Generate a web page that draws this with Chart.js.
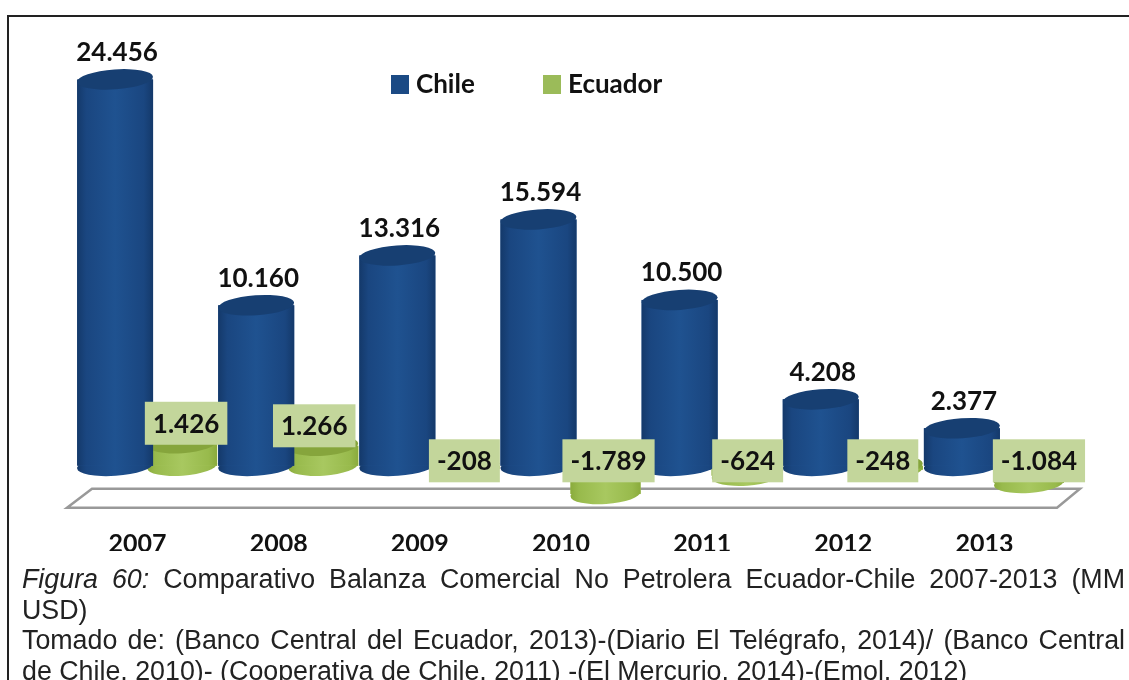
<!DOCTYPE html>
<html>
<head>
<meta charset="utf-8">
<script src="https://cdn.jsdelivr.net/npm/chart.js@4"></script>
<style>
  html, body { margin: 0; padding: 0; background: #fff; overflow: hidden; }
  #wrap { position: relative; width: 1129px; height: 680px; overflow: hidden; }
  #frame { position: absolute; left: 7px; top: 15px; right: 0; bottom: 0; border-left: 2px solid #222; border-top: 2px solid #222; }
  #balanza { position: absolute; left: 0; top: 0; }
  #caption { position: absolute; left: 22px; top: 564px; width: 1103px; font: 26.8px/30.5px "Liberation Sans", Arial, sans-serif; color: #222; text-align: justify; }
</style>
</head>
<body>
<div id="wrap">
  <div id="frame"></div>
  <canvas id="balanza" width="1129" height="680"></canvas>
  <div id="caption">
    <div><i>Figura 60:</i> Comparativo Balanza Comercial No Petrolera Ecuador-Chile 2007-2013 (MM USD)</div>
    <div>Tomado de: (Banco Central del Ecuador, 2013)-(Diario El Telégrafo, 2014)/ (Banco Central de Chile, 2010)- (Cooperativa de Chile, 2011) -(El Mercurio, 2014)-(Emol, 2012)</div>
  </div>
</div>
<script>
const years = ['2007', '2008', '2009', '2010', '2011', '2012', '2013'];
const chile = [24456, 10160, 13316, 15594, 10500, 4208, 2377];
const ecuador = [1426, 1266, -208, -1789, -624, -248, -1084];

// hand placed labels in the original, so nudge them a bit sideways
const ecuadorLabelNudge = [4, -9, 0, 3, 1, -5, 10];

const labelFont = 'bold 26px Lato, sans-serif';
const ink = '#111';

function fmt(v) {
  // dot as thousands separator
  return String(v).replace(/\B(?=(\d{3})+$)/g, '.');
}

function sideGradient(c, el, colors) {
  const g = c.createLinearGradient(el.x - el.width / 2, 0, el.x + el.width / 2, 0);
  g.addColorStop(0, colors[0]);
  g.addColorStop(0.12, colors[1]);
  g.addColorStop(0.5, colors[2]);
  g.addColorStop(0.88, colors[1]);
  g.addColorStop(1, colors[0]);
  return g;
}

const blueSide = ['#14396a', '#1a4680', '#1f5290'];
const greenSide = ['#8aab3c', '#98ba4c', '#a8c860'];
const capColor = ['#173f72', '#86a53c'];
const capTilt = -0.07;
const capHeight = 10;

function cap(c, el, y, fill) {
  c.beginPath();
  c.ellipse(el.x, y, el.width / 2, capHeight, capTilt, 0, Math.PI * 2);
  c.fillStyle = fill;
  c.fill();
}

// turns the flat bars into cylinders, using the bar elements Chart.js laid out
const cylinders = {
  id: 'cylinders',
  beforeDatasetDraw(chart, args) {
    const c = chart.ctx;
    const side = args.index === 0 ? blueSide : greenSide;
    args.meta.data.forEach(el => {
      cap(c, el, Math.max(el.y, el.base), sideGradient(c, el, side));
    });
  },
  afterDatasetDraw(chart, args) {
    const c = chart.ctx;
    const side = args.index === 0 ? blueSide : greenSide;
    args.meta.data.forEach(el => {
      const top = Math.min(el.y, el.base);
      c.fillStyle = sideGradient(c, el, side);
      c.fillRect(el.x - el.width / 2, top, el.width, Math.abs(el.y - el.base));
      cap(c, el, top, capColor[args.index]);
    });
  }
};

// the white slab under the bars, hung from the zero line
const platform = {
  id: 'platform',
  beforeDatasetsDraw(chart) {
    const c = chart.ctx;
    const zero = chart.scales.y.getPixelForValue(0);
    c.save();
    c.beginPath();
    c.moveTo(67, zero + 42);
    c.lineTo(92, zero + 23);
    c.lineTo(1080, zero + 23);
    c.lineTo(1057, zero + 42);
    c.closePath();
    c.strokeStyle = '#999';
    c.lineWidth = 2.5;
    c.stroke();
    c.restore();
  }
};

const valueLabels = {
  id: 'valueLabels',
  afterDatasetsDraw(chart) {
    const c = chart.ctx;
    const zero = chart.scales.y.getPixelForValue(0);
    c.save();
    c.font = labelFont;
    c.textAlign = 'center';
    c.textBaseline = 'middle';

    chart.getDatasetMeta(0).data.forEach((el, i) => {
      c.fillStyle = ink;
      c.fillText(fmt(chile[i]), el.x + 2, el.y - 27);
    });

    chart.getDatasetMeta(1).data.forEach((el, i) => {
      const text = fmt(ecuador[i]);
      const x = el.x + ecuadorLabelNudge[i];
      const y = ecuador[i] > 0 ? el.y - 20 : zero - 5;
      const w = c.measureText(text).width + 16;
      c.fillStyle = '#c3d69b';
      c.fillRect(x - w / 2, y - 21.5, w, 43);
      c.fillStyle = ink;
      c.fillText(text, x, y + 1);
    });
    c.restore();
  }
};

// legend sits inside the plot, off centre, so it is drawn here
const topLegend = {
  id: 'topLegend',
  afterDraw(chart) {
    const c = chart.ctx;
    const spots = [391, 543];
    const colors = ['#1b4a84', '#9bbb59'];
    c.save();
    c.font = labelFont;
    c.textBaseline = 'middle';
    c.textAlign = 'left';
    chart.data.datasets.forEach((ds, i) => {
      c.fillStyle = colors[i];
      c.fillRect(spots[i], 75, 18, 19);
      c.fillStyle = ink;
      c.fillText(ds.label, spots[i] + 25, 85);
    });
    c.restore();
  }
};

new Chart(document.getElementById('balanza').getContext('2d'), {
  type: 'bar',
  data: {
    labels: years,
    datasets: [
      { label: 'Chile', data: chile, barPercentage: 1.134, categoryPercentage: 0.95, backgroundColor: '#1f5290' },
      { label: 'Ecuador', data: ecuador, barPercentage: 1.045, categoryPercentage: 0.95, backgroundColor: '#a8c860' }
    ]
  },
  options: {
    responsive: false,
    animation: false,
    layout: { padding: { left: 78, right: 63, top: 55, bottom: 129 } },
    plugins: {
      legend: { display: false },
      tooltip: { enabled: false }
    },
    scales: {
      x: {
        grid: { display: false },
        border: { display: false },
        ticks: {
          color: ink,
          font: { family: 'Lato, sans-serif', weight: 'bold', size: 25 },
          labelOffset: -11,
          padding: -8,
          maxRotation: 0
        }
      },
      y: {
        display: false,
        min: -4000,
        max: 26000
      }
    }
  },
  plugins: [platform, cylinders, valueLabels, topLegend]
});
</script>
</body>
</html>
